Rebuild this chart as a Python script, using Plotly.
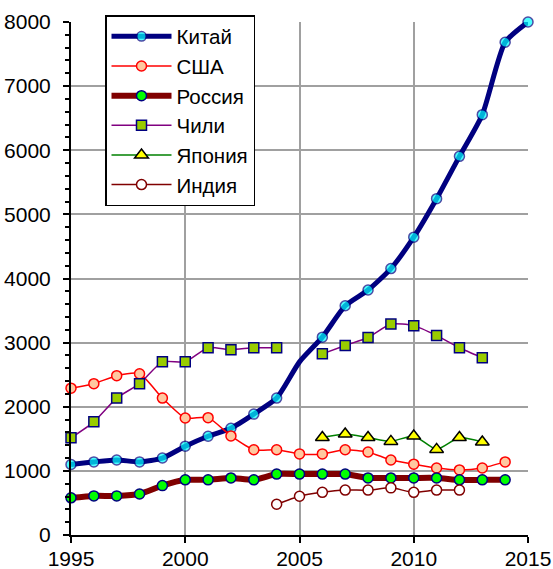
import plotly.graph_objects as go

years = list(range(1995, 2016))

china = [1100, 1140, 1170, 1140, 1200, 1385, 1540, 1665, 1885, 2135, 2700,
         3085, 3575, 3820, 4155, 4645, 5245, 5905, 6555, 7685, 8000]
china_marker = [10]*10 + [0] + [10]*10

usa = [2290, 2360, 2485, 2515, 2135, 1825, 1830, 1545, 1330, 1330, 1265,
       1265, 1330, 1295, 1170, 1105, 1045, 1015, 1045, 1140]

russia = [580, 610, 610, 640, 770, 860, 860, 890, 860, 950, 950,
          950, 950, 890, 890, 890, 890, 860, 860, 860]

chile = [1515, 1765, 2135, 2360, 2700, 2700, 2920, 2890, 2920, 2920, None,
         2825, 2955, 3080, 3290, 3265, 3110, 2920, 2765]

japan_years = list(range(2006, 2014))
japan = [1520, 1575, 1520, 1460, 1545, 1335, 1520, 1450]

india_years = list(range(2004, 2013))
india = [480, 605, 665, 700, 700, 735, 665, 700, 700]

FONT = "Liberation Sans, Arial, sans-serif"

fig = go.Figure()

fig.add_trace(go.Scatter(
    x=years, y=china, name="Китай", mode="lines+markers",
    line=dict(color="#000080", width=5, shape="spline", smoothing=0.6),
    marker=dict(symbol="circle", size=china_marker, color="#00FFFF",
                line=dict(color="#000080", width=1.5)),
    cliponaxis=False))

fig.add_trace(go.Scatter(
    x=years[:len(usa)], y=usa, name="США", mode="lines+markers",
    line=dict(color="#FF0000", width=1.5, shape="spline", smoothing=0.6),
    marker=dict(symbol="circle", size=10, color="#FFC8A0",
                line=dict(color="#FF0000", width=1.5)),
    cliponaxis=False))

fig.add_trace(go.Scatter(
    x=years[:len(russia)], y=russia, name="Россия", mode="lines+markers",
    line=dict(color="#800000", width=6, shape="spline", smoothing=0.6),
    marker=dict(symbol="circle", size=10, color="#00FF00",
                line=dict(color="#000080", width=1.5)),
    cliponaxis=False))

fig.add_trace(go.Scatter(
    x=years[:len(chile)], y=chile, name="Чили", mode="lines+markers",
    line=dict(color="#800080", width=1.5, shape="spline", smoothing=0.6),
    marker=dict(symbol="square", size=10, color="#99CC00",
                line=dict(color="#000080", width=1.5)),
    connectgaps=False, cliponaxis=False))

fig.add_trace(go.Scatter(
    x=japan_years, y=japan, name="Япония", mode="lines+markers",
    line=dict(color="#008000", width=1.5, shape="spline", smoothing=0.6),
    marker=dict(symbol="triangle-up", size=12, color="#FFFF00",
                line=dict(color="#000000", width=1.5)),
    cliponaxis=False))

fig.add_trace(go.Scatter(
    x=india_years, y=india, name="Индия", mode="lines+markers",
    line=dict(color="#800000", width=1.5, shape="spline", smoothing=0.6),
    marker=dict(symbol="circle", size=10, color="#FFFFFF",
                line=dict(color="#800000", width=1.5)),
    cliponaxis=False))

fig.update_layout(
    width=553, height=569,
    margin=dict(l=71, r=25, t=22, b=34),
    paper_bgcolor="white", plot_bgcolor="white",
    font=dict(family=FONT, size=21, color="black"),
    legend=dict(x=0.0744, y=1.0136, xanchor="left", yanchor="top",
                bgcolor="white", bordercolor="black", borderwidth=1.5,
                font=dict(family=FONT, size=20.5, color="black"),
                itemwidth=60, tracegroupgap=0),
    xaxis=dict(range=[1995, 2015], tickvals=[1995, 2000, 2005, 2010, 2015],
               showgrid=True, gridcolor="#A0A0A0", gridwidth=1.5,
               showline=True, linecolor="black", linewidth=2,
               ticks="outside", ticklen=6, tickwidth=2, tickcolor="black",
               zeroline=False, tickfont=dict(size=21), automargin=False,
               ticklabelstandoff=-2),
    yaxis=dict(range=[0, 8000], tickvals=list(range(0, 8001, 1000)),
               showgrid=True, gridcolor="#A0A0A0", gridwidth=1.5,
               showline=True, linecolor="black", linewidth=2,
               ticks="outside", ticklen=6, tickwidth=2, tickcolor="black",
               zeroline=False, tickfont=dict(size=21), automargin=False,
               ticklabelstandoff=8,
               minor=dict(dtick=200, ticks="outside", ticklen=4,
                          tickwidth=1.5, tickcolor="black", showgrid=False)),
)

fig.write_html("out.html", config={"displayModeBar": False},
               post_script="document.body.style.margin='0';")
